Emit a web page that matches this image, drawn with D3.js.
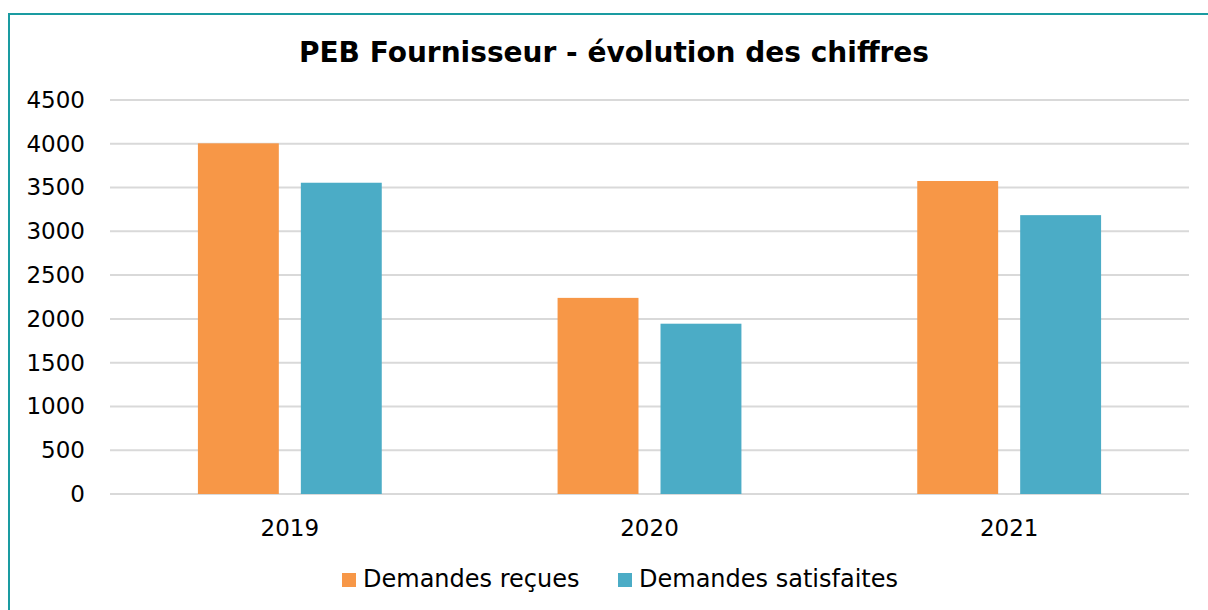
<!DOCTYPE html>
<html>
<head>
<meta charset="utf-8">
<script src="https://cdn.jsdelivr.net/npm/d3@7"></script>
<style>
  body { margin: 0; background: #fff; }
  text { font-family: 'DejaVu Sans', Verdana, sans-serif; fill: #000; }
</style>
</head>
<body>
<script>
// data
var years = ['2019', '2020', '2021']
var seriesNames = ['Demandes reçues', 'Demandes satisfaites']
var recues = [4005, 2240, 3575]
var satisfaites = [3555, 1945, 3185]
var yTicks = [0, 500, 1000, 1500, 2000, 2500, 3000, 3500, 4000, 4500]
var colors = ['#f79747', '#4bacc6']

var width = 1208
var height = 610
var margin = { left: 110, right: 19, top: 100, bottom: 116 }

var svg = d3.select('body').append('svg')
    .attr('width', width)
    .attr('height', height)

// frame (only left and top edges visible)
svg.append('path')
    .attr('d', 'M9,' + height + ' V14 H' + width)
    .attr('fill', 'none')
    .attr('stroke', '#1a9ba1')
    .attr('stroke-width', 2)

svg.append('text')
    .attr('x', 614)
    .attr('y', 62)
    .attr('text-anchor', 'middle')
    .style('font-size', '28px')
    .style('font-weight', 'bold')
    .text('PEB Fournisseur - évolution des chiffres')

var x = d3.scaleBand().domain(years).range([margin.left, width - margin.right])
var inner = d3.scaleBand().domain(seriesNames).range([0, x.bandwidth()]).paddingInner(0.214).paddingOuter(0.854)
var y = d3.scaleLinear().domain([0, 4500]).range([height - margin.bottom, margin.top])

// grid lines
svg.append('g').selectAll('line')
    .data(yTicks)
    .enter().append('line')
        .attr('x1', margin.left)
        .attr('x2', width - margin.right)
        .attr('y1', d => y(d))
        .attr('y2', d => y(d))
        .attr('stroke', '#d9d9d9')
        .attr('stroke-width', 2)

var yAxis = d3.axisLeft(y).tickValues(yTicks).tickFormat(d3.format('d')).tickSize(0).tickPadding(25)
svg.append('g')
    .attr('transform', 'translate(' + margin.left + ',0)')
    .call(yAxis)
    .call(g => g.select('.domain').remove())
    .selectAll('text')
        .style('font-size', '23px')

var xAxis = d3.axisBottom(x).tickSize(0).tickPadding(26)
svg.append('g')
    .attr('transform', 'translate(0,' + y(0) + ')')
    .call(xAxis)
    .call(g => g.select('.domain').remove())
    .selectAll('text')
        .style('font-size', '23px')

var seriesValues = [recues, satisfaites]
seriesNames.forEach(function(name, j) {
    svg.append('g').selectAll('rect')
        .data(years)
        .enter().append('rect')
            .attr('x', d => x(d) + inner(name))
            .attr('width', inner.bandwidth())
            .attr('y', (d, i) => y(seriesValues[j][i]))
            .attr('height', (d, i) => y(0) - y(seriesValues[j][i]))
            .attr('fill', colors[j])
})

// legend
var legendX = [342, 618]
seriesNames.forEach(function(name, i) {
    var g = svg.append('g').attr('transform', 'translate(' + legendX[i] + ',587)')
    g.append('rect')
        .attr('x', 0)
        .attr('y', -14)
        .attr('width', 14)
        .attr('height', 14)
        .attr('fill', colors[i])
    g.append('text')
        .attr('x', 21)
        .attr('y', 0)
        .style('font-size', '24px')
        .text(name)
})
</script>
</body>
</html>
